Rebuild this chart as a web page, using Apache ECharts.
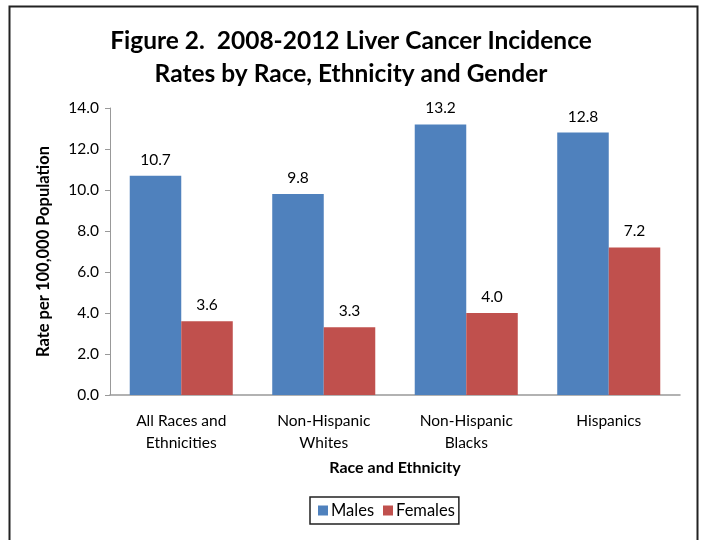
<!DOCTYPE html>
<html>
<head>
<meta charset="utf-8">
<script src="https://cdn.jsdelivr.net/npm/echarts@6/dist/echarts.min.js"></script>
<style>
  html, body { margin: 0; padding: 0; background: #fff; }
  #chart { width: 702px; height: 540px; }
</style>
</head>
<body>
<div id="chart"></div>
<script>
// Liver cancer incidence rates, 2008-2012, per 100,000 population
const categories = ['All Races and\nEthnicities', 'Non-Hispanic\nWhites', 'Non-Hispanic\nBlacks', 'Hispanics'];
const males = [10.7, 9.8, 13.2, 12.8];
const females = [3.6, 3.3, 4.0, 7.2];
const yTicks = { min: 0, max: 14, interval: 2 };

const FONT = 'Lato, "Open Sans", sans-serif';
const chart = echarts.init(document.getElementById('chart'), null, { renderer: 'canvas' });

const labelStyle = {
  show: true,
  position: 'top',
  distance: 8,
  color: '#000',
  fontFamily: FONT,
  fontSize: 15.5,
  formatter: p => p.value.toFixed(1)
};

chart.setOption({
  backgroundColor: '#fff',
  animation: false,
  title: {
    text: 'Figure 2.  2008-2012 Liver Cancer Incidence\nRates by Race, Ethnicity and Gender',
    left: 'center',
    top: 20,
    textStyle: {
      fontFamily: FONT,
      fontWeight: 'bold',
      fontSize: 24.5,
      lineHeight: 33,
      color: '#000'
    }
  },
  graphic: [{
    type: 'rect',
    shape: { x: 9.5, y: 6.5, width: 688, height: 560 },
    style: { fill: 'none', stroke: '#222', lineWidth: 2 },
    silent: true
  }],
  legend: {
    data: ['Males', 'Females'],
    top: 497,
    left: 310,
    itemWidth: 10,
    itemHeight: 10,
    itemGap: 9,
    padding: [5, 4, 5, 8],
    borderColor: '#222',
    borderWidth: 1.5,
    icon: 'rect',
    textStyle: { fontFamily: FONT, fontSize: 16.5, color: '#000', padding: [0, 0, 0, -2] }
  },
  grid: { left: 110, right: 22, top: 108, bottom: 145, containLabel: false },
  xAxis: {
    type: 'category',
    data: categories,
    name: 'Race and Ethnicity',
    nameLocation: 'middle',
    nameGap: 65,
    nameTextStyle: { fontFamily: FONT, fontWeight: 'bold', fontSize: 16, color: '#000' },
    axisLine: { lineStyle: { color: '#999', width: 1.5 } },
    axisTick: { show: false },
    axisLabel: { fontFamily: FONT, fontSize: 15.5, color: '#000', margin: 15, lineHeight: 22 }
  },
  yAxis: {
    type: 'value',
    min: yTicks.min,
    max: yTicks.max,
    interval: yTicks.interval,
    name: 'Rate per 100,000 Population',
    nameLocation: 'middle',
    nameGap: 58,
    nameTextStyle: { fontFamily: FONT, fontWeight: 'bold', fontSize: 16.5, color: '#000' },
    axisLine: { show: true, lineStyle: { color: '#999', width: 1 } },
    axisTick: { show: true, length: 5, lineStyle: { color: '#999' } },
    splitLine: { show: false },
    axisLabel: {
      fontFamily: FONT, fontSize: 15.5, color: '#000', margin: 11,
      formatter: v => v.toFixed(1)
    }
  },
  series: [
    {
      name: 'Males',
      type: 'bar',
      data: males,
      barGap: '0%',
      barCategoryGap: '27.7%',
      itemStyle: { color: '#4F81BD' },
      label: labelStyle
    },
    {
      name: 'Females',
      type: 'bar',
      data: females,
      itemStyle: { color: '#C0504D' },
      label: labelStyle
    }
  ]
});
</script>
</body>
</html>
